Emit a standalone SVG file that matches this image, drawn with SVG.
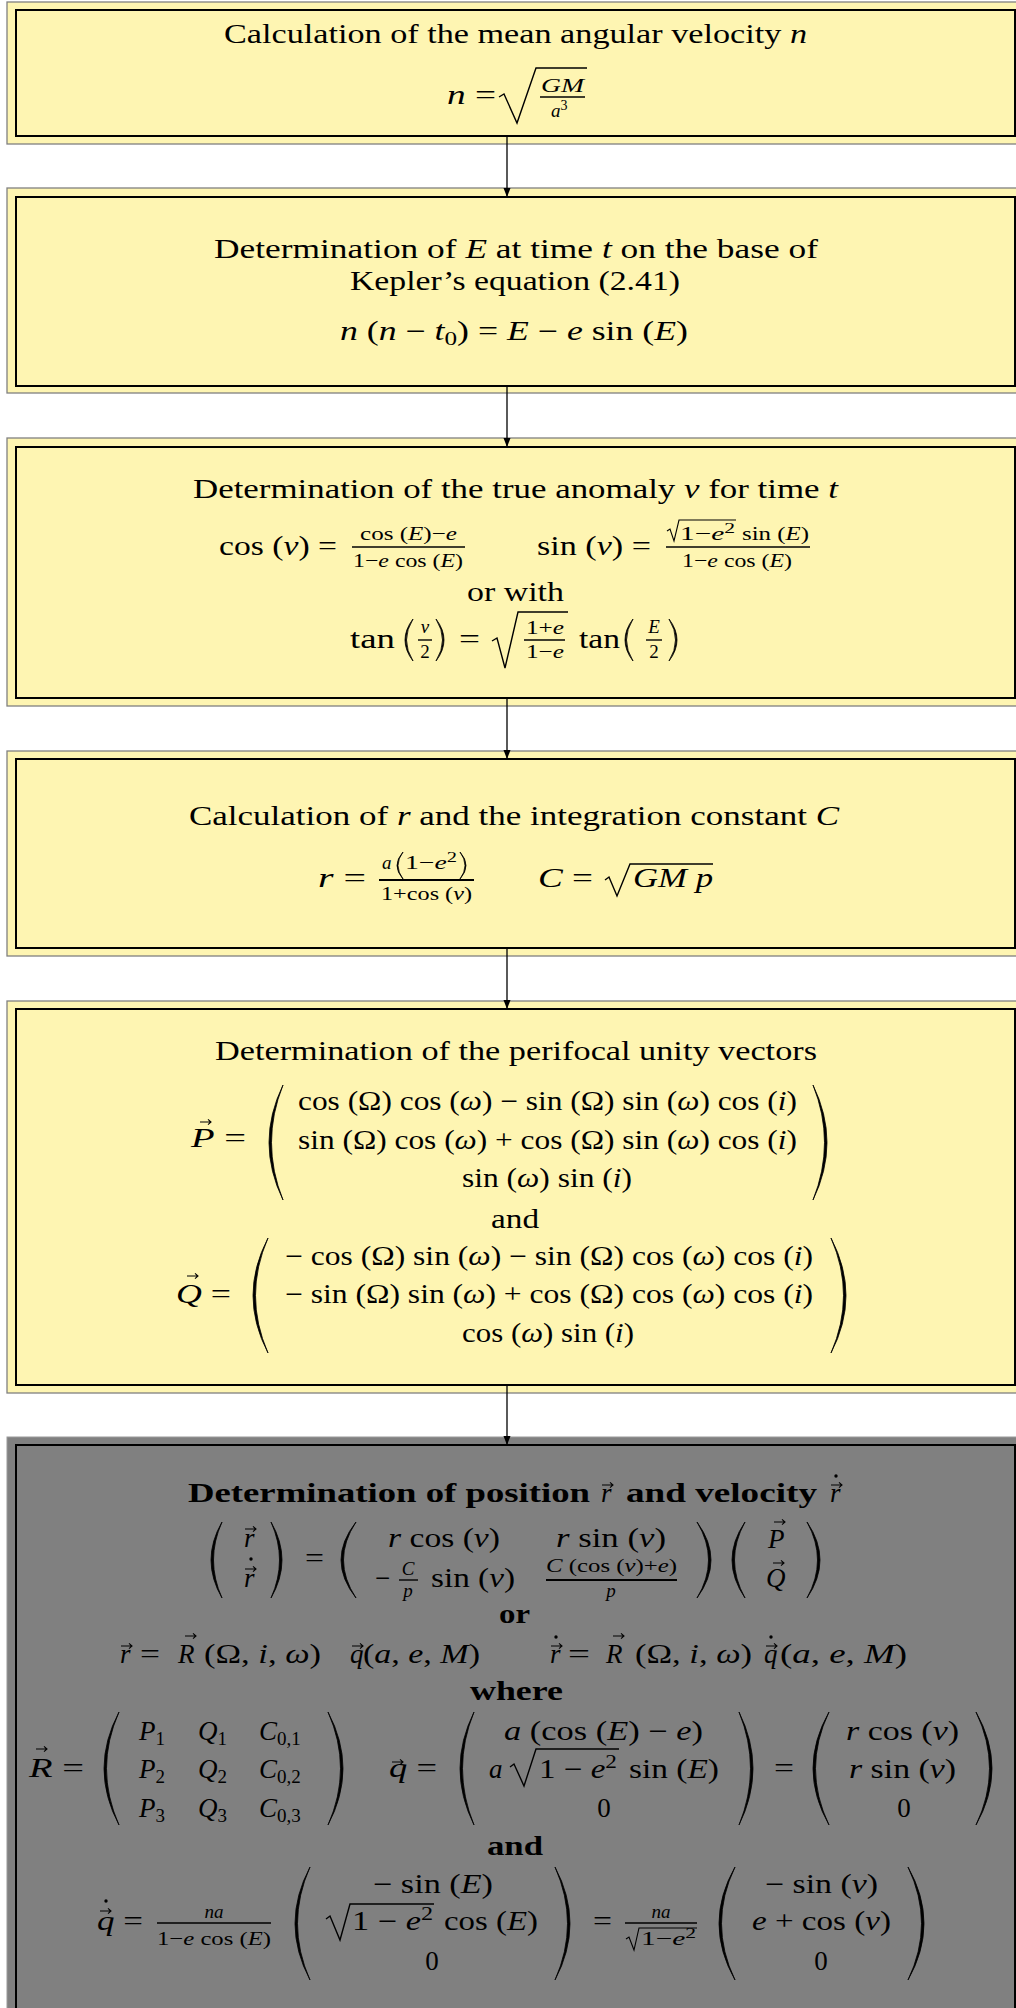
<svg xmlns="http://www.w3.org/2000/svg" xmlns:xlink="http://www.w3.org/1999/xlink" width="1016" height="2008" viewBox="0 0 1016 2008">
<style>
.ob{fill:#fef5b2;stroke:#808080;stroke-width:1.3}
.og{fill:#808080;stroke:#9a9a9a;stroke-width:1}
.ib{fill:none;stroke:#000;stroke-width:2}
.t{font-family:"Liberation Serif","Times New Roman",serif;font-size:27px;fill:#000}
.s{font-size:19px}
.x{font-size:14px}
.i{font-style:italic}
.n{font-style:normal}
.b{font-weight:bold}
.c{text-anchor:middle}
.ln{fill:none;stroke:#000;stroke-width:1.4}
.fb{stroke:#000;stroke-width:1.4}
.pr{fill:#000;stroke:#000;stroke-width:0.8}
.cn{fill:none;stroke:#000;stroke-width:1.3}
</style>
<defs>
<marker id="ah" markerUnits="userSpaceOnUse" markerWidth="10" markerHeight="8" refX="9" refY="3.5" orient="auto">
<path d="M0,0 L9,3.5 L0,7 Z" fill="#000"/>
</marker>
<path id="va" d="M0,0 H11 M8,-2.6 L11,0 L8,2.6" fill="none" stroke="#000" stroke-width="1.1"/>
</defs>

<g id="node1">
<rect class="ob" x="7" y="2" width="1012" height="142"/>
<rect class="ib" x="16" y="10" width="999" height="126"/>
<text class="t" x="224" y="43" textLength="583" lengthAdjust="spacingAndGlyphs">Calculation of the mean angular velocity <tspan class="i">n</tspan></text>
<text class="t" x="447" y="104" textLength="49" lengthAdjust="spacingAndGlyphs"><tspan class="i">n</tspan> =</text>
<path class="ln" d="M499,97 L504,94 L517,123 L536,68 H587"/>
<text class="t s i" x="541" y="92" textLength="43" lengthAdjust="spacingAndGlyphs">GM</text>
<line class="fb" x1="540" y1="97" x2="585" y2="97"/>
<text class="t s i" x="551" y="117">a<tspan class="x n" dy="-7">3</tspan></text>
</g>

<g id="node2">
<rect class="ob" x="7" y="188" width="1012" height="205"/>
<rect class="ib" x="16" y="197" width="999" height="189"/>
<text class="t" x="214" y="258" textLength="604" lengthAdjust="spacingAndGlyphs">Determination of <tspan class="i">E</tspan> at time <tspan class="i">t</tspan> on the base of</text>
<text class="t" x="350" y="290" textLength="330" lengthAdjust="spacingAndGlyphs">Kepler’s equation (2.41)</text>
<text class="t" x="340" y="340" textLength="348" lengthAdjust="spacingAndGlyphs"><tspan class="i">n</tspan> (<tspan class="i">n</tspan> − <tspan class="i">t</tspan><tspan class="s" dy="5">0</tspan><tspan dy="-5">) = </tspan><tspan class="i">E</tspan> − <tspan class="i">e</tspan> sin (<tspan class="i">E</tspan>)</text>
</g>

<g id="node3">
<rect class="ob" x="7" y="438" width="1012" height="268"/>
<rect class="ib" x="16" y="447" width="999" height="251"/>
<text class="t" x="193" y="498" textLength="645" lengthAdjust="spacingAndGlyphs">Determination of the true anomaly <tspan class="i">ν</tspan> for time <tspan class="i">t</tspan></text>
<text class="t" x="219" y="555" textLength="118" lengthAdjust="spacingAndGlyphs">cos (<tspan class="i">ν</tspan>) =</text>
<text class="t s" x="360" y="540" textLength="97" lengthAdjust="spacingAndGlyphs">cos (<tspan class="i">E</tspan>)−<tspan class="i">e</tspan></text>
<line class="fb" x1="352" y1="547" x2="465" y2="547"/>
<text class="t s" x="353" y="567" textLength="110" lengthAdjust="spacingAndGlyphs">1−<tspan class="i">e</tspan> cos (<tspan class="i">E</tspan>)</text>
<text class="t" x="537" y="555" textLength="114" lengthAdjust="spacingAndGlyphs">sin (<tspan class="i">ν</tspan>) =</text>
<path class="ln" style="stroke-width:1.1" d="M667,531 L670,529 L674,541 L679,520 H736"/>
<text class="t s" x="680" y="540" textLength="55" lengthAdjust="spacingAndGlyphs">1−<tspan class="i">e</tspan><tspan class="x" dy="-7">2</tspan></text>
<text class="t s" x="742" y="540" textLength="67" lengthAdjust="spacingAndGlyphs">sin (<tspan class="i">E</tspan>)</text>
<line class="fb" x1="666" y1="547" x2="810" y2="547"/>
<text class="t s" x="682" y="567" textLength="110" lengthAdjust="spacingAndGlyphs">1−<tspan class="i">e</tspan> cos (<tspan class="i">E</tspan>)</text>
<text class="t" x="467" y="601" textLength="97" lengthAdjust="spacingAndGlyphs">or with</text>
<text class="t" x="350" y="648" textLength="45" lengthAdjust="spacingAndGlyphs">tan</text>
<path class="pr" d="M413,619 Q397,640 413,661 Q400,640 413,619 Z"/>
<text class="t s i c" x="425" y="633">ν</text>
<line class="fb" x1="418" y1="640" x2="432" y2="640"/>
<text class="t s c" x="425" y="658">2</text>
<path class="pr" d="M436,619 Q452,640 436,661 Q449,640 436,619 Z"/>
<text class="t" x="459" y="648" textLength="21" lengthAdjust="spacingAndGlyphs">=</text>
<path class="ln" d="M492,641 L497,638 L505,668 L518,612 H568"/>
<text class="t s" x="526" y="634" textLength="38" lengthAdjust="spacingAndGlyphs">1+<tspan class="i">e</tspan></text>
<line class="fb" x1="524" y1="640" x2="565" y2="640"/>
<text class="t s" x="526" y="658" textLength="38" lengthAdjust="spacingAndGlyphs">1−<tspan class="i">e</tspan></text>
<text class="t" x="579" y="648" textLength="41" lengthAdjust="spacingAndGlyphs">tan</text>
<path class="pr" d="M633,619 Q617,640 633,661 Q620,640 633,619 Z"/>
<text class="t s i c" x="654" y="633">E</text>
<line class="fb" x1="646" y1="640" x2="662" y2="640"/>
<text class="t s c" x="654" y="658">2</text>
<path class="pr" d="M669,619 Q685,640 669,661 Q682,640 669,619 Z"/>
</g>

<g id="node4">
<rect class="ob" x="7" y="751" width="1012" height="205"/>
<rect class="ib" x="16" y="759" width="999" height="189"/>
<text class="t" x="189" y="825" textLength="650" lengthAdjust="spacingAndGlyphs">Calculation of <tspan class="i">r</tspan> and the integration constant <tspan class="i">C</tspan></text>
<text class="t" x="318" y="887" textLength="48" lengthAdjust="spacingAndGlyphs"><tspan class="i">r</tspan> =</text>
<text class="t s i" x="382" y="869">a</text>
<path class="pr" d="M403,852 Q391,865.5 403,879 Q393,865.5 403,852 Z"/>
<text class="t s" x="405" y="869" textLength="52" lengthAdjust="spacingAndGlyphs">1−<tspan class="i">e</tspan><tspan class="x" dy="-7">2</tspan></text>
<path class="pr" d="M460,852 Q472,865.5 460,879 Q470,865.5 460,852 Z"/>
<line class="fb" x1="379" y1="880" x2="474" y2="880" style="stroke-width:2"/>
<text class="t s" x="381" y="900" textLength="91" lengthAdjust="spacingAndGlyphs">1+cos (<tspan class="i">ν</tspan>)</text>
<text class="t" x="538" y="887" textLength="55" lengthAdjust="spacingAndGlyphs"><tspan class="i">C</tspan> =</text>
<path class="ln" d="M605,880 L609,877 L617,896 L630,864 H713"/>
<text class="t i" x="633" y="887" textLength="80" lengthAdjust="spacingAndGlyphs">GM p</text>
</g>

<g id="node5">
<rect class="ob" x="7" y="1001" width="1012" height="392"/>
<rect class="ib" x="16" y="1009" width="999" height="376"/>
<text class="t" x="215" y="1060" textLength="602" lengthAdjust="spacingAndGlyphs">Determination of the perifocal unity vectors</text>
<text class="t" x="191" y="1147" textLength="55" lengthAdjust="spacingAndGlyphs"><tspan class="i">P</tspan> =</text>
<use xlink:href="#va" href="#va" x="200" y="1122"/>
<path class="pr" d="M283,1085 Q255,1142.5 283,1200 Q260,1142.5 283,1085 Z"/>
<text class="t" x="298" y="1110" textLength="499" lengthAdjust="spacingAndGlyphs">cos (Ω) cos (<tspan class="i">ω</tspan>) − sin (Ω) sin (<tspan class="i">ω</tspan>) cos (<tspan class="i">i</tspan>)</text>
<text class="t" x="298" y="1149" textLength="499" lengthAdjust="spacingAndGlyphs">sin (Ω) cos (<tspan class="i">ω</tspan>) + cos (Ω) sin (<tspan class="i">ω</tspan>) cos (<tspan class="i">i</tspan>)</text>
<text class="t" x="462" y="1187" textLength="170" lengthAdjust="spacingAndGlyphs">sin (<tspan class="i">ω</tspan>) sin (<tspan class="i">i</tspan>)</text>
<path class="pr" d="M813,1085 Q841,1142.5 813,1200 Q836,1142.5 813,1085 Z"/>
<text class="t" x="491" y="1228" textLength="48" lengthAdjust="spacingAndGlyphs">and</text>
<text class="t" x="176" y="1303" textLength="55" lengthAdjust="spacingAndGlyphs"><tspan class="i">Q</tspan> =</text>
<use xlink:href="#va" href="#va" x="187" y="1276"/>
<path class="pr" d="M268,1238 Q238,1295.5 268,1353 Q243,1295.5 268,1238 Z"/>
<text class="t" x="285" y="1265" textLength="528" lengthAdjust="spacingAndGlyphs">− cos (Ω) sin (<tspan class="i">ω</tspan>) − sin (Ω) cos (<tspan class="i">ω</tspan>) cos (<tspan class="i">i</tspan>)</text>
<text class="t" x="285" y="1303" textLength="528" lengthAdjust="spacingAndGlyphs">− sin (Ω) sin (<tspan class="i">ω</tspan>) + cos (Ω) cos (<tspan class="i">ω</tspan>) cos (<tspan class="i">i</tspan>)</text>
<text class="t" x="462" y="1342" textLength="172" lengthAdjust="spacingAndGlyphs">cos (<tspan class="i">ω</tspan>) sin (<tspan class="i">i</tspan>)</text>
<path class="pr" d="M831,1238 Q861,1295.5 831,1353 Q856,1295.5 831,1238 Z"/>
</g>

<g id="node6">
<rect class="og" x="7" y="1437" width="1012" height="600"/>
<rect class="ib" x="16" y="1445" width="999" height="600"/>
<text class="t b" x="188" y="1502" textLength="402" lengthAdjust="spacingAndGlyphs">Determination of position</text>
<text class="t i" x="601" y="1502">r</text>
<use xlink:href="#va" href="#va" x="602" y="1485"/>
<text class="t b" x="626" y="1502" textLength="191" lengthAdjust="spacingAndGlyphs">and velocity</text>
<text class="t i" x="830" y="1502">r</text>
<use xlink:href="#va" href="#va" x="831" y="1485"/>
<circle cx="836" cy="1476" r="1.7"/>

<path class="pr" d="M222,1522 Q200,1560 222,1598 Q205,1560 222,1522 Z"/>
<text class="t i" x="244" y="1547">r</text>
<use xlink:href="#va" href="#va" x="245" y="1529"/>
<text class="t i" x="244" y="1587">r</text>
<use xlink:href="#va" href="#va" x="245" y="1569"/>
<circle cx="251" cy="1559" r="1.7"/>
<path class="pr" d="M271,1522 Q293,1560 271,1598 Q288,1560 271,1522 Z"/>
<text class="t" x="305" y="1567" textLength="19" lengthAdjust="spacingAndGlyphs">=</text>
<path class="pr" d="M356,1522 Q326,1560 356,1598 Q331,1560 356,1522 Z"/>
<text class="t" x="388" y="1547" textLength="112" lengthAdjust="spacingAndGlyphs"><tspan class="i">r</tspan> cos (<tspan class="i">ν</tspan>)</text>
<text class="t" x="556" y="1547" textLength="110" lengthAdjust="spacingAndGlyphs"><tspan class="i">r</tspan> sin (<tspan class="i">ν</tspan>)</text>
<text class="t" x="375" y="1587">−</text>
<text class="t s i c" x="408" y="1575">C</text>
<line class="fb" x1="399" y1="1580" x2="418" y2="1580"/>
<text class="t s i c" x="408" y="1597">p</text>
<text class="t" x="431" y="1587" textLength="84" lengthAdjust="spacingAndGlyphs">sin (<tspan class="i">ν</tspan>)</text>
<text class="t s" x="546" y="1572" textLength="131" lengthAdjust="spacingAndGlyphs"><tspan class="i">C</tspan> (cos (<tspan class="i">ν</tspan>)+<tspan class="i">e</tspan>)</text>
<line class="fb" x1="546" y1="1580" x2="677" y2="1580" style="stroke-width:2"/>
<text class="t s i c" x="611" y="1597">p</text>
<path class="pr" d="M697,1522 Q725,1560 697,1598 Q720,1560 697,1522 Z"/>
<path class="pr" d="M745,1522 Q719,1560 745,1598 Q724,1560 745,1522 Z"/>
<text class="t i" x="768" y="1548">P</text>
<use xlink:href="#va" href="#va" x="774" y="1522"/>
<text class="t i" x="766" y="1587">Q</text>
<use xlink:href="#va" href="#va" x="773" y="1563"/>
<path class="pr" d="M807,1522 Q833,1560 807,1598 Q828,1560 807,1522 Z"/>

<text class="t b" x="499" y="1623" textLength="31" lengthAdjust="spacingAndGlyphs">or</text>

<text class="t i" x="120" y="1663">r</text>
<use xlink:href="#va" href="#va" x="121" y="1646"/>
<text class="t" x="140" y="1663" textLength="20" lengthAdjust="spacingAndGlyphs">=</text>
<text class="t i" x="178" y="1663">R</text>
<use xlink:href="#va" href="#va" x="185" y="1636"/>
<text class="t" x="204" y="1663" textLength="117" lengthAdjust="spacingAndGlyphs">(Ω, <tspan class="i">i</tspan>, <tspan class="i">ω</tspan>)</text>
<text class="t i" x="350" y="1663">q</text>
<use xlink:href="#va" href="#va" x="352" y="1646"/>
<text class="t" x="363" y="1663" textLength="117" lengthAdjust="spacingAndGlyphs">(<tspan class="i">a</tspan>, <tspan class="i">e</tspan>, <tspan class="i">M</tspan>)</text>

<text class="t i" x="550" y="1663">r</text>
<use xlink:href="#va" href="#va" x="551" y="1646"/>
<circle cx="556" cy="1637" r="1.7"/>
<text class="t" x="568" y="1663" textLength="22" lengthAdjust="spacingAndGlyphs">=</text>
<text class="t i" x="606" y="1663">R</text>
<use xlink:href="#va" href="#va" x="613" y="1636"/>
<text class="t" x="635" y="1663" textLength="117" lengthAdjust="spacingAndGlyphs">(Ω, <tspan class="i">i</tspan>, <tspan class="i">ω</tspan>)</text>
<text class="t i" x="764" y="1663">q</text>
<use xlink:href="#va" href="#va" x="766" y="1646"/>
<circle cx="771" cy="1637" r="1.7"/>
<text class="t" x="780" y="1663" textLength="127" lengthAdjust="spacingAndGlyphs">(<tspan class="i">a</tspan>, <tspan class="i">e</tspan>, <tspan class="i">M</tspan>)</text>

<text class="t b" x="470" y="1700" textLength="93" lengthAdjust="spacingAndGlyphs">where</text>

<text class="t" x="29" y="1777" textLength="55" lengthAdjust="spacingAndGlyphs"><tspan class="i">R</tspan> =</text>
<use xlink:href="#va" href="#va" x="36" y="1749"/>
<path class="pr" d="M119,1712 Q89,1768.5 119,1825 Q94,1768.5 119,1712 Z"/>
<text class="t" x="139" y="1740"><tspan class="i">P</tspan><tspan class="s" dy="5">1</tspan></text>
<text class="t" x="198" y="1740"><tspan class="i">Q</tspan><tspan class="s" dy="5">1</tspan></text>
<text class="t" x="259" y="1740"><tspan class="i">C</tspan><tspan class="s" dy="5">0,1</tspan></text>
<text class="t" x="139" y="1778"><tspan class="i">P</tspan><tspan class="s" dy="5">2</tspan></text>
<text class="t" x="198" y="1778"><tspan class="i">Q</tspan><tspan class="s" dy="5">2</tspan></text>
<text class="t" x="259" y="1778"><tspan class="i">C</tspan><tspan class="s" dy="5">0,2</tspan></text>
<text class="t" x="139" y="1817"><tspan class="i">P</tspan><tspan class="s" dy="5">3</tspan></text>
<text class="t" x="198" y="1817"><tspan class="i">Q</tspan><tspan class="s" dy="5">3</tspan></text>
<text class="t" x="259" y="1817"><tspan class="i">C</tspan><tspan class="s" dy="5">0,3</tspan></text>
<path class="pr" d="M328,1712 Q358,1768.5 328,1825 Q353,1768.5 328,1712 Z"/>

<text class="t" x="389" y="1777" textLength="48" lengthAdjust="spacingAndGlyphs"><tspan class="i">q</tspan> =</text>
<use xlink:href="#va" href="#va" x="392" y="1762"/>
<path class="pr" d="M474,1712 Q446,1768.5 474,1825 Q451,1768.5 474,1712 Z"/>
<text class="t" x="504" y="1740" textLength="199" lengthAdjust="spacingAndGlyphs"><tspan class="i">a</tspan> (cos (<tspan class="i">E</tspan>) − <tspan class="i">e</tspan>)</text>
<text class="t i" x="489" y="1778">a</text>
<path class="ln" d="M510,1767 L514,1764 L524,1786 L536,1749 H619"/>
<text class="t" x="539" y="1778" textLength="78" lengthAdjust="spacingAndGlyphs">1 − <tspan class="i">e</tspan><tspan class="s" dy="-10">2</tspan></text>
<text class="t" x="629" y="1778" textLength="90" lengthAdjust="spacingAndGlyphs">sin (<tspan class="i">E</tspan>)</text>
<text class="t c" x="604" y="1817">0</text>
<path class="pr" d="M739,1712 Q767,1768.5 739,1825 Q762,1768.5 739,1712 Z"/>
<text class="t" x="774" y="1777" textLength="20" lengthAdjust="spacingAndGlyphs">=</text>
<path class="pr" d="M829,1712 Q797,1768.5 829,1825 Q802,1768.5 829,1712 Z"/>
<text class="t" x="846" y="1740" textLength="113" lengthAdjust="spacingAndGlyphs"><tspan class="i">r</tspan> cos (<tspan class="i">ν</tspan>)</text>
<text class="t" x="849" y="1778" textLength="107" lengthAdjust="spacingAndGlyphs"><tspan class="i">r</tspan> sin (<tspan class="i">ν</tspan>)</text>
<text class="t c" x="904" y="1817">0</text>
<path class="pr" d="M976,1712 Q1008,1768.5 976,1825 Q1003,1768.5 976,1712 Z"/>

<text class="t b" x="487" y="1855" textLength="56" lengthAdjust="spacingAndGlyphs">and</text>

<text class="t" x="97" y="1930" textLength="46" lengthAdjust="spacingAndGlyphs"><tspan class="i">q</tspan> =</text>
<use xlink:href="#va" href="#va" x="100" y="1911"/>
<circle cx="106" cy="1901" r="1.7"/>
<text class="t s i c" x="214" y="1918">na</text>
<line class="fb" x1="157" y1="1923" x2="271" y2="1923"/>
<text class="t s" x="157" y="1945" textLength="114" lengthAdjust="spacingAndGlyphs">1−<tspan class="i">e</tspan> cos (<tspan class="i">E</tspan>)</text>
<path class="pr" d="M310,1867 Q280,1923.5 310,1980 Q285,1923.5 310,1867 Z"/>
<text class="t" x="373" y="1893" textLength="120" lengthAdjust="spacingAndGlyphs">− sin (<tspan class="i">E</tspan>)</text>
<path class="ln" d="M326,1919 L330,1916 L340,1940 L350,1904 H434"/>
<text class="t" x="352" y="1930" textLength="81" lengthAdjust="spacingAndGlyphs">1 − <tspan class="i">e</tspan><tspan class="s" dy="-10">2</tspan></text>
<text class="t" x="444" y="1930" textLength="94" lengthAdjust="spacingAndGlyphs">cos (<tspan class="i">E</tspan>)</text>
<text class="t c" x="432" y="1970">0</text>
<path class="pr" d="M555,1867 Q585,1923.5 555,1980 Q580,1923.5 555,1867 Z"/>
<text class="t" x="593" y="1930" textLength="19" lengthAdjust="spacingAndGlyphs">=</text>
<text class="t s i c" x="661" y="1918">na</text>
<line class="fb" x1="625" y1="1923" x2="697" y2="1923"/>
<path class="ln" style="stroke-width:1.1" d="M626,1939 L629,1937 L634,1950 L639,1928 H697"/>
<text class="t s" x="641" y="1945" textLength="55" lengthAdjust="spacingAndGlyphs">1−<tspan class="i">e</tspan><tspan class="x" dy="-7">2</tspan></text>
<path class="pr" d="M735,1867 Q703,1923.5 735,1980 Q708,1923.5 735,1867 Z"/>
<text class="t" x="765" y="1893" textLength="113" lengthAdjust="spacingAndGlyphs">− sin (<tspan class="i">ν</tspan>)</text>
<text class="t" x="752" y="1930" textLength="139" lengthAdjust="spacingAndGlyphs"><tspan class="i">e</tspan> + cos (<tspan class="i">ν</tspan>)</text>
<text class="t c" x="821" y="1970">0</text>
<path class="pr" d="M908,1867 Q940,1923.5 908,1980 Q935,1923.5 908,1867 Z"/>
</g>

<g id="connectors">
<path class="cn" d="M507,137 V197" marker-end="url(#ah)"/>
<path class="cn" d="M507,387 V447" marker-end="url(#ah)"/>
<path class="cn" d="M507,699 V759" marker-end="url(#ah)"/>
<path class="cn" d="M507,949 V1009" marker-end="url(#ah)"/>
<path class="cn" d="M507,1386 V1445" marker-end="url(#ah)"/>
</g>
</svg>
